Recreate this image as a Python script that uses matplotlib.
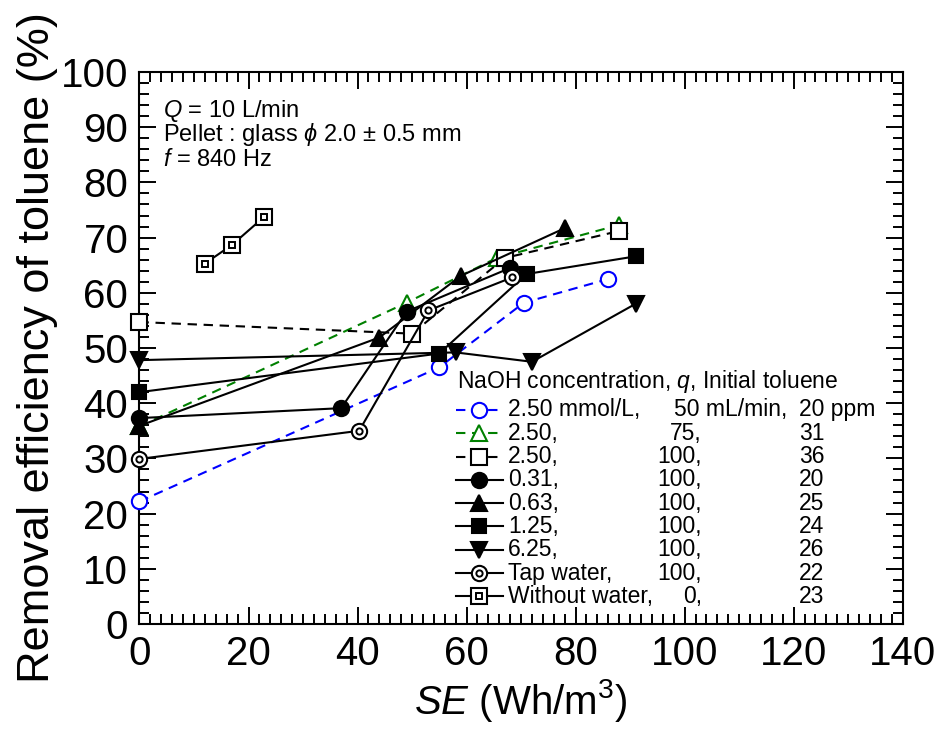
import matplotlib

matplotlib.use("Agg")
import matplotlib.pyplot as plt
from matplotlib.lines import Line2D
from matplotlib.ticker import MultipleLocator

# SE (Wh/m3) vs removal efficiency (%), one pair of lists per run
SE_BLUE = [0, 55, 70.5, 86]
RE_BLUE = [22.2, 46.5, 58.2, 62.5]
SE_GREEN = [0, 49, 65.5, 88]
RE_GREEN = [35.8, 58.2, 66.3, 72.3]
SE_OPEN_SQ = [0, 50, 67, 88]
RE_OPEN_SQ = [54.7, 52.6, 66.3, 71.2]
SE_CIRCLE = [0, 37, 49, 68]
RE_CIRCLE = [37.3, 39.1, 56.6, 64.5]
SE_TRI = [0, 44, 59, 78]
RE_TRI = [35.9, 51.9, 63.1, 71.7]
SE_SQ = [0, 55, 71, 91]
RE_SQ = [42.0, 49.0, 63.4, 66.6]
SE_TRI_DOWN = [0, 58, 72, 91]
RE_TRI_DOWN = [47.8, 49.2, 47.5, 58.0]
SE_TAP = [0, 40.3, 53, 68.4]
RE_TAP = [29.9, 35.0, 56.8, 62.8]
SE_DRY = [12, 17, 22.8]
RE_DRY = [65.3, 68.7, 73.7]

LEGEND_HEADER = "NaOH concentration, $q$, Initial toluene"
LEGEND_CONC = ["2.50 mmol/L,", "2.50,", "2.50,", "0.31,", "0.63,", "1.25,", "6.25,",
               "Tap water,", "Without water,"]
LEGEND_FLOW = ["50 mL/min,", "75,", "100,", "100,", "100,", "100,", "100,", "100,", "0,"]
LEGEND_TOLUENE = ["20 ppm", "31", "36", "20", "25", "24", "26", "22", "23"]

NOTES = ["$Q$ = 10 L/min", r"Pellet : glass $\phi$ 2.0 ± 0.5 mm", "$f$ = 840 Hz"]

BLUE = "#0000ff"
GREEN = "#008000"
DASH = (0, (4.5, 3.2))


def series_styles():
    # (x, y, line style, marker kwargs, overlay marker)
    solid = dict(color="black", ls="-")
    return [
        (SE_BLUE, RE_BLUE, dict(color=BLUE, ls=DASH), dict(marker="o", ms=11, mfc="white", mec=BLUE), None),
        (SE_GREEN, RE_GREEN, dict(color=GREEN, ls=DASH), dict(marker="^", ms=11, mfc="white", mec=GREEN), None),
        (SE_OPEN_SQ, RE_OPEN_SQ, dict(color="black", ls=DASH), dict(marker="s", ms=11, mfc="white", mec="black"), None),
        (SE_CIRCLE, RE_CIRCLE, solid, dict(marker="o", ms=11, mfc="black", mec="black"), None),
        (SE_TRI, RE_TRI, solid, dict(marker="^", ms=12, mfc="black", mec="black"), None),
        (SE_SQ, RE_SQ, solid, dict(marker="s", ms=10.5, mfc="black", mec="black"), None),
        (SE_TRI_DOWN, RE_TRI_DOWN, solid, dict(marker="v", ms=12, mfc="black", mec="black"), None),
        (SE_TAP, RE_TAP, solid, dict(marker="o", ms=11, mfc="white", mec="black"), dict(marker="o", ms=4.5)),
        (SE_DRY, RE_DRY, solid, dict(marker="s", ms=11, mfc="white", mec="black"), dict(marker="s", ms=5)),
    ]


def draw_series(ax):
    for x, y, line, mk, inner in series_styles():
        ax.plot(x, y, lw=1.5, mew=1.5, clip_on=False, zorder=3, **line, **mk)
        if inner is not None:
            ax.plot(x, y, ls="none", mfc="white", mec="black", mew=1.4,
                    clip_on=False, zorder=4, **inner)


def draw_legend(ax):
    fs = 16.5
    ax.text(0.4156, 0.439, LEGEND_HEADER, transform=ax.transAxes, fontsize=fs,
            ha="left", va="center")
    y0, dy = 0.3877, 0.0422
    for i, (x, y, line, mk, inner) in enumerate(series_styles()):
        yy = y0 - i * dy
        ax.add_line(Line2D([0.4147, 0.4759], [yy, yy], transform=ax.transAxes,
                           lw=1.5, **line))
        ax.add_line(Line2D([0.4452], [yy], transform=ax.transAxes, ls="none",
                           mew=1.5, **mk))
        if inner is not None:
            ax.add_line(Line2D([0.4452], [yy], transform=ax.transAxes, ls="none",
                               mfc="white", mec="black", mew=1.4, **inner))
        ax.text(0.4832, yy, LEGEND_CONC[i], transform=ax.transAxes, fontsize=fs,
                ha="left", va="center")
        if i == 0:
            ax.text(0.700, yy, LEGEND_FLOW[i], transform=ax.transAxes, fontsize=fs,
                    ha="left", va="center")
        else:
            ax.text(0.7366, yy, LEGEND_FLOW[i], transform=ax.transAxes, fontsize=fs,
                    ha="right", va="center")
        ax.text(0.8645, yy, LEGEND_TOLUENE[i], transform=ax.transAxes, fontsize=fs,
                ha="left", va="center")


def main() -> None:
    plt.rcParams["font.family"] = ["Liberation Sans", "DejaVu Sans"]
    plt.rcParams["mathtext.fontset"] = "custom"
    plt.rcParams["mathtext.rm"] = "Liberation Sans"
    plt.rcParams["mathtext.it"] = "Liberation Sans:italic"

    fig = plt.figure(figsize=(9.45, 7.31), dpi=100)
    ax = fig.add_axes([0.1476, 0.1464, 0.8076, 0.7551])

    draw_series(ax)

    ax.set_xlim(0, 140)
    ax.set_ylim(0, 100)
    ax.xaxis.set_major_locator(MultipleLocator(20))
    ax.xaxis.set_minor_locator(MultipleLocator(2))
    ax.yaxis.set_major_locator(MultipleLocator(10))
    ax.yaxis.set_minor_locator(MultipleLocator(2))
    ax.tick_params(which="both", direction="in", top=True, right=True,
                   labelsize=29, pad=8)
    ax.tick_params(which="major", length=12.5, width=1.4)
    ax.tick_params(which="minor", length=7, width=1.4)
    for sp in ax.spines.values():
        sp.set_linewidth(1.5)

    ax.set_xlabel("$SE$ (Wh/m$^3$)", fontsize=29, labelpad=3)
    ax.set_ylabel("Removal efficiency of toluene (%)", fontsize=32.5, labelpad=2)

    for y, note in zip([0.930, 0.886, 0.840], NOTES):
        ax.text(0.031, y, note, transform=ax.transAxes,
                fontsize=17, ha="left", va="center")

    draw_legend(ax)

    fig.savefig("out.png", dpi=100)


if __name__ == "__main__":
    main()
